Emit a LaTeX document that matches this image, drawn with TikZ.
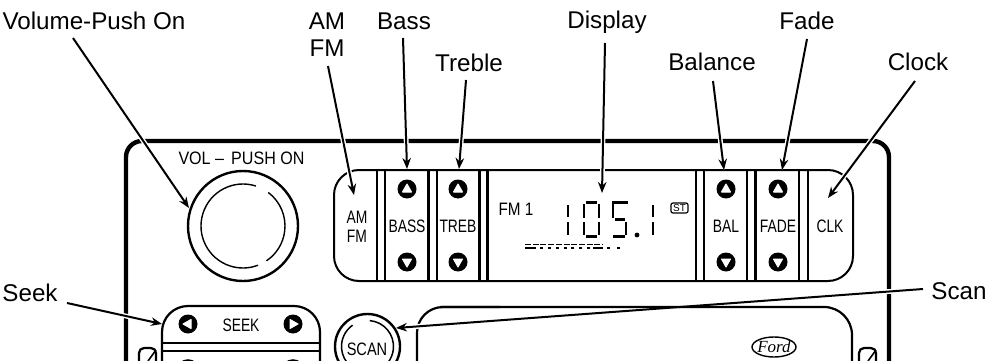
\documentclass[tikz,border=0pt]{standalone}
\usepackage{fontspec}
\setmainfont{Liberation Sans}
\newfontfamily\fordfont{Liberation Serif}
\usetikzlibrary{arrows.meta}
\tikzset{
  callout/.style={font=\fontsize{24.2}{24.2}\selectfont, inner sep=0pt, text=black},
  paneltext/.style={font=\fontsize{18}{18}\selectfont, inner sep=0pt, transform shape, xscale=.77},
  leader/.style={line width=2pt, -{Stealth[length=11pt,width=8.5pt]},
    preaction={draw=white, line width=4.8pt}},
  panelline/.style={line width=4.4pt},
  stripline/.style={line width=2pt},
  sepline/.style={line width=2.4pt},
  seg/.style={line width=2.2pt},
  upbtn/.pic={\fill[black] (0,0) circle[radius=9.5];
    \fill[white,line join=round,draw=white,line width=1pt] (0,-5) -- (4.5,3) -- (-4.5,3) -- cycle;},
  downbtn/.pic={\fill[black] (0,0) circle[radius=9.5];
    \fill[white,line join=round,draw=white,line width=1pt] (0,5) -- (4.5,-3) -- (-4.5,-3) -- cycle;},
  leftbtn/.pic={\fill[black] (0,0) circle[radius=9.5];
    \fill[white,line join=round,draw=white,line width=1pt] (-5,0) -- (3,4.5) -- (3,-4.5) -- cycle;},
  rightbtn/.pic={\fill[black] (0,0) circle[radius=9.5];
    \fill[white,line join=round,draw=white,line width=1pt] (5,0) -- (-3,4.5) -- (-3,-4.5) -- cycle;},
}
\begin{document}
\begin{tikzpicture}[x=1pt,y=-1pt]
\path[use as bounding box, fill=white] (0,0) rectangle (993,361);
\clip (0,0) rectangle (993,361);

% outer panel
\draw[panelline, rounded corners=16pt] (126,365) -- (126,141) -- (889,141) -- (889,365);

% knob
\draw[line width=2.4pt] (243,226) circle[radius=55];
\draw[line width=1.4pt] (243,226) ++(-72:42) arc[start angle=-72,end angle=-291,radius=42];
\draw[line width=1.4pt] (243,226) ++(-53:42) arc[start angle=-53,end angle=56,radius=42];
\node[paneltext, xscale=1.16] (vol) at (241.5,158) {VOL –\, PUSH ON};

% control strip
\draw[stripline, rounded corners=25pt] (334,170) rectangle (853,281);
\foreach \x in {377,385,428.5,437,479.5,487.5,696,704,747,755.5,799,808}
  \draw[sepline] (\x,170) -- (\x,281);
\foreach \x in {407,458,726,778} {
  \pic at (\x,189) {upbtn};
  \pic at (\x,262) {downbtn};
}
\node[paneltext] (am) at (357,217) {AM};
\node[paneltext] (fm) at (357,236) {FM};
\node[paneltext] (bass) at (407,226) {BASS};
\node[paneltext] (treb) at (458,226) {TREB};
\node[paneltext] (bal) at (726,226) {BAL};
\node[paneltext] (fade) at (778,226) {FADE};
\node[paneltext] (clk) at (830,226) {CLK};

% display
\node[paneltext, xscale=1.1] (fmone) at (516,209) {FM 1};
\draw[line width=2.8pt] (568,205) -- (568,217) (568,222) -- (568,235);
\draw[seg] (584,204) -- (584,218) (584,222) -- (584,235) (599,204) -- (599,218) (599,222) -- (599,235)
  (586,202.5) -- (597,202.5) (586,236.5) -- (597,236.5);
\draw[seg] (613,204) -- (613,218) (626,222) -- (626,235) (612,202.5) -- (628,202.5)
  (615,219.5) -- (625,219.5) (613,236.5) -- (625,236.5);
\fill (637,235) circle[radius=2.4];
\draw[line width=2.8pt] (653,205) -- (653,217) (653,222) -- (653,235);
\draw[line width=1.6pt, dash pattern=on 6pt off 1.7pt] (525,244.5) -- (603,244.5);
\draw[line width=1.6pt, dash pattern=on 3pt off 4.7pt] (525,248) -- (603,248);
\draw[line width=1.6pt] (525,248) -- (535,248) (593,248) -- (603,248) (607,248) -- (610,248) (617,248) -- (620,248);
\node[draw, line width=1.2pt, rounded corners=2pt, minimum width=17pt, minimum height=10pt, inner sep=0pt,
  font=\fontsize{10}{10}\selectfont] (st) at (679.5,208) {ST};

% seek block
\draw[line width=2.2pt, rounded corners=26pt] (162,400) -- (162,306) -- (320,306) -- (320,400);
\draw[line width=2.2pt] (162,343) -- (320,343) (162,351) -- (320,351);
\pic at (188,324) {leftbtn};
\pic at (293,324) {rightbtn};
\node[paneltext] (seek) at (241,325) {SEEK};
\draw[line width=1.5pt] (188,371) circle[radius=11] (293,371) circle[radius=11];

% small brackets
\draw[line width=2.2pt, rounded corners=5pt] (139,365) -- (139,348) -- (156,348) -- (156,365);
\draw[line width=1.6pt] (156,350) -- (148,361) (876,350) -- (868,361);
\draw[line width=2.2pt, rounded corners=5pt] (859,365) -- (859,348) -- (876,348) -- (876,365);

% big box, left part (cut by the Scan leader)
\draw[line width=2.2pt, rounded corners=26pt] (417,400) -- (417,307) -- (500,307);

% scan button
\draw[line width=2.4pt] (367.5,346.5) circle[radius=32.5];
\draw[line width=1.5pt] (367.5,346.5) ++(-85:26) arc[start angle=-85,end angle=40,radius=26];
\draw[line width=1.5pt] (367.5,346.5) ++(-125:26) arc[start angle=-125,end angle=-230,radius=26];
\node[paneltext, xscale=1.05] (scanbtn) at (367,349) {SCAN};

% Ford badge
\draw[line width=1.4pt] (774,347) ellipse[x radius=22, y radius=10];
\node[inner sep=0pt, font=\fontsize{17}{17}\selectfont\fordfont\itshape] (ford) at (774,347) {Ford};

% callout labels
\node[callout] (lvol) at (94,21) {Volume-Push On};
\node[callout] (lam) at (327,21) {AM};
\node[callout] (lfm) at (327,48) {FM};
\node[callout] (lbass) at (404,21) {Bass};
\node[callout] (ltreb) at (469,63) {Treble};
\node[callout] (ldisp) at (607,22) {Display};
\node[callout] (lbal) at (712,62) {Balance};
\node[callout] (lfade) at (807,21) {Fade};
\node[callout] (lclock) at (918,62) {Clock};
\node[callout] (lseek) at (30,293) {Seek};
\node[callout] (lscan) at (959,291) {Scan};

% leader ends
\coordinate (svol) at (73,38);    \coordinate (tvol) at (189,208);
\coordinate (sam) at (328,66);    \coordinate (tam) at (354,195);
\coordinate (sbass) at (403,38);  \coordinate (tbass) at (407,169);
\coordinate (streb) at (466,80);  \coordinate (ttreb) at (459,169);
\coordinate (sdisp) at (605,43);  \coordinate (tdisp) at (602,193);
\coordinate (sbal) at (713,81);   \coordinate (tbal) at (724,170);
\coordinate (sfade) at (807,39);  \coordinate (tfade) at (782,170);
\coordinate (sclock) at (915,81); \coordinate (tclock) at (828,198);
\coordinate (sseek) at (67,303);  \coordinate (tseek) at (162,324);
\coordinate (sscan) at (923,289); \coordinate (tscan) at (396,328);

\draw[leader] (svol) -- (tvol);
\draw[leader] (sam) -- (tam);
\draw[leader] (sbass) -- (tbass);
\draw[leader] (streb) -- (ttreb);
\draw[leader] (sdisp) -- (tdisp);
\draw[leader] (sbal) -- (tbal);
\draw[leader] (sfade) -- (tfade);
\draw[leader] (sclock) -- (tclock);
\draw[leader] (sseek) -- (tseek);
\draw[leader] (sscan) -- (tscan);

% big box, top and right, over the Scan leader
\draw[line width=2.2pt, rounded corners=28pt] (440,307) -- (852,307) -- (852,400);
\end{tikzpicture}
\end{document}
